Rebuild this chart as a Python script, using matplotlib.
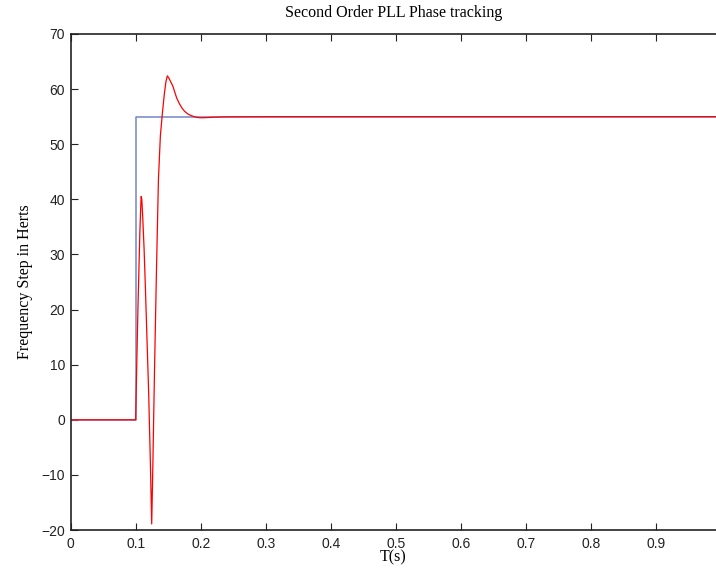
import matplotlib
matplotlib.use("Agg")
import matplotlib.pyplot as plt

# reference step (Hz)
step_t = [0.0, 0.1, 0.1, 1.0]
step_f = [0.0, 0.0, 55.0, 55.0]

# PLL tracked frequency
pll_t = [0.0, 0.1, 0.1035, 0.1065, 0.1078, 0.1085, 0.1095, 0.1110, 0.1130,
         0.1150, 0.1175, 0.1200, 0.1225, 0.1247, 0.1265, 0.1290, 0.1320,
         0.1350, 0.1380, 0.1410, 0.1440, 0.1465, 0.1487, 0.1510, 0.1540,
         0.1570, 0.1600, 0.1630, 0.1670, 0.1710, 0.1750, 0.1800, 0.1850,
         0.1900, 0.1950, 0.2000, 0.2080, 0.2200, 0.2400, 0.3000, 1.0]
pll_f = [0.0, 0.0, 20.0, 34.0, 38.5, 40.5, 40.0, 36.5, 31.0,
         24.0, 14.5, 5.0, -7.0, -18.9, -8.0, 9.0, 27.0,
         43.5, 51.5, 55.5, 59.0, 61.3, 62.4, 62.0, 61.3,
         60.6, 59.5, 58.4, 57.4, 56.6, 56.0, 55.5, 55.2,
         55.0, 54.85, 54.8, 54.82, 54.9, 54.97, 55.0, 55.0]

x_ticks = [0, 0.1, 0.2, 0.3, 0.4, 0.5, 0.6, 0.7, 0.8, 0.9]
x_labels = ["0", "0.1", "0.2", "0.3", "0.4", "0.5", "0.6", "0.7", "0.8", "0.9"]
y_ticks = [-20, -10, 0, 10, 20, 30, 40, 50, 60, 70]

serif = ["Liberation Serif", "DejaVu Serif"]
sans = ["Liberation Sans", "DejaVu Sans"]

fig = plt.figure(figsize=(7.16, 5.69), dpi=100)
ax = fig.add_axes([0.0985, 0.0685, 0.9015, 0.8718])

ax.plot(step_t, step_f, color="#7386c8", lw=1.1)
ax.plot(pll_t, pll_f, color="#ff0000", lw=0.9)

ax.set_xlim(0, 0.9915)
ax.set_ylim(-20, 70)
ax.set_xticks(x_ticks)
ax.set_xticklabels(x_labels)
ax.set_yticks(y_ticks)
ax.set_yticklabels([str(v).replace("-", "\u2212") for v in y_ticks])

ax.spines["right"].set_visible(False)
for s in ["left", "bottom", "top"]:
    ax.spines[s].set_linewidth(1.2)
    ax.spines[s].set_color("#222222")
ax.tick_params(direction="in", length=5, width=0.8, top=True, right=False,
               colors="#222222", labelsize=10)
ax.tick_params(axis="x", pad=5)
ax.tick_params(axis="y", pad=4)
for lbl in ax.get_xticklabels() + ax.get_yticklabels():
    lbl.set_family(sans)

ax.set_title("Second Order PLL Phase tracking", family=serif, fontsize=11.5, pad=12)
ax.set_xlabel("T(s)", family=serif, fontsize=11.5, labelpad=-1)
ax.set_ylabel("Frequency Step in Herts", family=serif, fontsize=11.5, labelpad=6)

fig.savefig("out.png", dpi=100)
